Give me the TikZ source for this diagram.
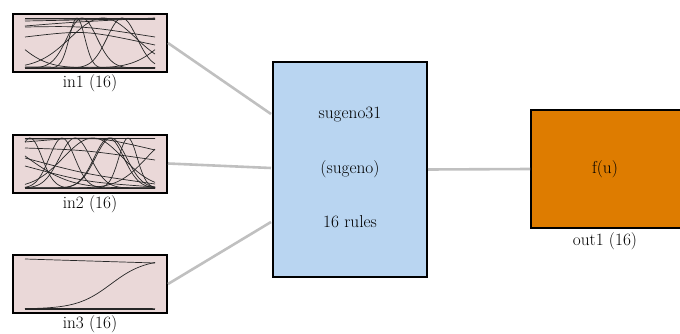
\documentclass[tikz,border=0pt]{standalone}
\usetikzlibrary{calc}
\definecolor{inpink}{HTML}{EAD8D8}
\definecolor{fisblue}{HTML}{B9D5F1}
\definecolor{outorange}{HTML}{DE7C00}
\definecolor{wiregray}{HTML}{C0C0C0}
\tikzset{
  every node/.style={font=\fontsize{17.3}{20}\selectfont, text=black},
  varbox/.style={draw=black, line width=2pt, fill=inpink, minimum width=154pt, minimum height=58pt, inner sep=0pt},
  fisbox/.style={draw=black, line width=2pt, fill=fisblue, minimum width=154pt, minimum height=215pt, inner sep=0pt},
  outbox/.style={draw=black, line width=2pt, fill=outorange, minimum width=151pt, minimum height=118pt, inner sep=0pt},
  lbl/.style={inner sep=0pt},
  wire/.style={draw=wiregray, line width=2.6pt},
  mf/.style={draw=black!85, line width=0.7pt},
}
% Gaussian membership curve: centre, width (local plot units 130 x 50)
\newcommand{\gaussmf}[2]{\draw[mf] plot[domain=0:130, samples=90, smooth] (\x, {50*exp(max(-9, -((\x-(#1))/(#2))^2))});}
\newcommand{\sigmf}[2]{\draw[mf] plot[domain=0:130, samples=60, smooth] (\x, {50/(1+exp(min(9, max(-9, -(\x-(#1))/(#2)))))});}
\begin{document}
\begin{tikzpicture}[x=1pt, y=1pt]
\useasboundingbox (0,0) rectangle (680,333);

% input variable boxes
\node[varbox] (in1) at (90,290) {};
\node[varbox] (in2) at (90,169.5) {};
\node[varbox] (in3) at (90,49) {};
\node[lbl] (in1l) at (90,250) {in1 (16)};
\node[lbl] (in2l) at (90,129) {in2 (16)};
\node[lbl] (in3l) at (90,9) {in3 (16)};

% membership functions of in1
\begin{scope}[shift={(25,265)}]
  \draw[mf] (0,50) -- (130,50);
  \draw[mf] (0,49) -- (130,48.5);
  \draw[mf] (0,47) -- (130,49.5);
  \draw[mf] (0,42) .. controls (50,46) .. (130,50);
  \draw[mf] (0,41) .. controls (60,42) .. (130,31);
  \draw[mf] (0,31) .. controls (60,38) .. (130,23);
  \draw[mf] (0,0) -- (130,0);
  \draw[mf] (0,1) -- (130,0.5);
  \gaussmf{52}{11}
  \gaussmf{57}{21}
  \gaussmf{97}{21}
  \gaussmf{-45}{45}
  \gaussmf{175}{45}
  \gaussmf{78}{46}
\end{scope}

% membership functions of in2
\begin{scope}[shift={(25,145)}]
  \draw[mf] (0,50) -- (130,50);
  \draw[mf] (0,49) -- (130,49.5);
  \draw[mf] (0,0) -- (130,0);
  \draw[mf] (0,40) .. controls (60,38) .. (130,28);
  \draw[mf] (0,30) .. controls (60,14) .. (130,4);
  \draw[mf] (0,22) .. controls (60,6) .. (130,1);
  \draw[mf] (0,46) .. controls (70,52) .. (130,38);
  \gaussmf{5}{17}
  \gaussmf{37}{18}
  \gaussmf{50}{22}
  \gaussmf{84}{21}
  \gaussmf{86}{22}
  \gaussmf{103}{13}
  \gaussmf{-40}{60}
  \gaussmf{68}{42}
  \gaussmf{150}{40}
\end{scope}

% membership functions of in3
\begin{scope}[shift={(25,24)}]
  \draw[mf] (0,50) -- (130,46);
  \draw[mf] (0,0) -- (130,0);
  \draw[mf] (0,0.6) -- (130,0.4);
  \sigmf{86}{17}
\end{scope}

% inference system and output
\node[fisbox] (fis) at (350,163.5) {};
\node[lbl] (fisname) at (350,218) {sugeno31};
\node[lbl] (fistype) at (350,164) {(sugeno)};
\node[lbl] (fisrules) at (350,111) {16 rules};

\node[outbox] (out1) at (606.5,164) {};
\node[lbl] (fu) at (605,164) {f(u)};
\node[lbl] (out1l) at (605,92) {out1 (16)};

% connection points on the inference box
\coordinate (c1) at (271,219);
\coordinate (c2) at (271,165);
\coordinate (c3) at (271,111);

\draw[wire] (in1.east) -- (c1);
\draw[wire] (in2.east) -- (c2);
\draw[wire] (in3.east) -- (c3);
\draw[wire] (fis.east) -- (out1.west);
\end{tikzpicture}
\end{document}
